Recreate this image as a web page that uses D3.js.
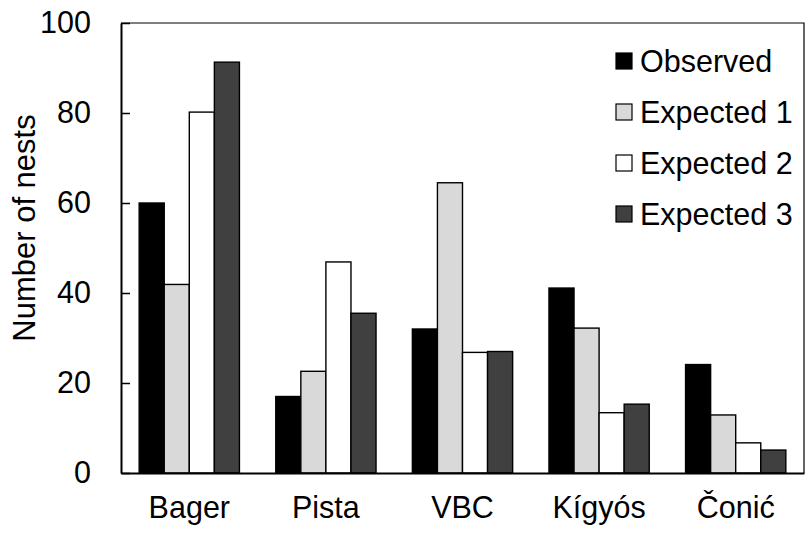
<!DOCTYPE html>
<html>
<head>
<meta charset="utf-8">
<script src="https://cdn.jsdelivr.net/npm/d3@7"></script>
<style>
  html, body { margin: 0; padding: 0; background: #fff; }
  svg { display: block; font-family: "Liberation Sans", Arial, sans-serif; }
</style>
</head>
<body>
<svg id="chart" width="806" height="536"></svg>
<script>
const categories = ["Bager", "Pista", "VBC", "Kígyós", "Čonić"];
const seriesNames = ["Observed", "Expected 1", "Expected 2", "Expected 3"];
const observed  = [60, 17, 32, 41.1, 24.1];
const expected1 = [41.9, 22.6, 64.5, 32.2, 12.9];
const expected2 = [80.2, 46.9, 26.8, 13.4, 6.7];
const expected3 = [91.3, 35.5, 27.0, 15.3, 5.1];
const yTicks = [0, 20, 40, 60, 80, 100];
const seriesColors = ["#000000", "#d9d9d9", "#ffffff", "#404040"];

const seriesValues = [observed, expected1, expected2, expected3];

const svg = d3.select("#chart");
const mLeft = 121, mRight = 804, mTop = 23, mBottom = 473;
const fs = 30.5;

const x0 = d3.scaleBand().domain(categories).range([mLeft, mRight]).padding(0);
const bw = x0.bandwidth();
const x1 = d3.scaleBand().domain(seriesNames).range([bw * 0.133, bw * 0.867]).padding(0);
const y = d3.scaleLinear().domain([0, 100]).range([mBottom, mTop]);

// frame (top and right)
svg.append("path")
  .attr("d", `M${mLeft},${mTop}H${mRight}V${mBottom}`)
  .attr("fill", "none").attr("stroke", "#000").attr("stroke-width", 1.2);

// bars
const groups = svg.append("g").selectAll("g")
  .data(categories).join("g")
  .attr("transform", d => `translate(${x0(d)},0)`);

groups.selectAll("rect")
  .data((d, i) => seriesNames.map((s, j) => ({ s, j, v: seriesValues[j][i] })))
  .join("rect")
  .attr("x", d => x1(d.s))
  .attr("y", d => y(d.v))
  .attr("width", x1.bandwidth())
  .attr("height", d => y(0) - y(d.v))
  .attr("fill", d => seriesColors[d.j])
  .attr("stroke", "#000")
  .attr("stroke-width", 1.4);

// y axis
const yAxis = d3.axisLeft(y).tickValues(yTicks).tickSizeInner(-9).tickSizeOuter(0).tickPadding(30);
const gy = svg.append("g").attr("transform", `translate(${mLeft},0)`).call(yAxis);
gy.select(".domain").attr("stroke", "#000").attr("stroke-width", 2);
gy.selectAll(".tick line").attr("stroke", "#000").attr("stroke-width", 1.5);
gy.selectAll(".tick text").attr("font-size", fs).attr("font-family", "Liberation Sans, Arial, sans-serif").attr("fill", "#000");

// x axis
const xAxis = d3.axisBottom(x0).tickSize(0).tickPadding(23);
const gx = svg.append("g").attr("transform", `translate(0,${mBottom})`).call(xAxis);
gx.select(".domain").attr("stroke", "#000").attr("stroke-width", 2);
gx.selectAll(".tick text").attr("font-size", fs).attr("font-family", "Liberation Sans, Arial, sans-serif").attr("fill", "#000");

// y axis title
svg.append("text")
  .attr("transform", `translate(35,228) rotate(-90)`)
  .attr("text-anchor", "middle")
  .attr("font-size", 31)
  .text("Number of nests");

// legend
const legend = svg.append("g").selectAll("g")
  .data(seriesNames).join("g")
  .attr("transform", (d, i) => `translate(616,${61 + i * 51})`);
legend.append("rect")
  .attr("x", 0).attr("y", -8).attr("width", 16).attr("height", 16)
  .attr("fill", (d, i) => seriesColors[i])
  .attr("stroke", "#000").attr("stroke-width", 1.2);
legend.append("text")
  .attr("x", 24).attr("y", 0).attr("dy", "0.35em")
  .attr("font-size", fs)
  .text(d => d);
</script>
</body>
</html>
